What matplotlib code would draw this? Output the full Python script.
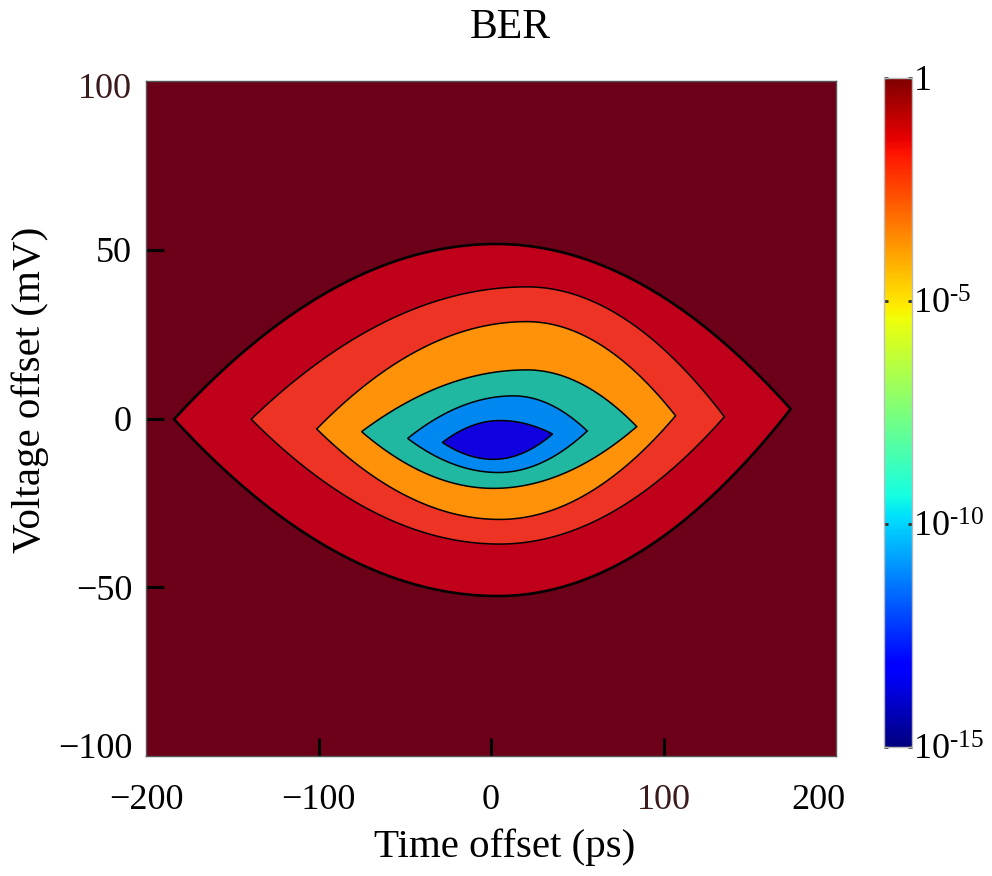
import matplotlib
matplotlib.use("Agg")
import matplotlib.pyplot as plt
import numpy as np
from matplotlib.colors import LogNorm
from matplotlib.cm import ScalarMappable
import matplotlib.transforms as mtransforms

plt.rcParams["font.family"] = ["Liberation Serif", "DejaVu Serif"]
plt.rcParams["mathtext.fontset"] = "custom"
plt.rcParams["mathtext.rm"] = "Liberation Serif"
plt.rcParams["mathtext.it"] = "Liberation Serif:italic"

# contour outlines (ps, mV), outermost first
t_left = [-183.7, -139.0, -101.0, -75.0, -48.3, -28.2]
v_left = [-0.2, -0.2, -3.1, -3.9, -5.9, -7.1]
t_right = [173.7, 135.3, 107.0, 84.5, 55.8, 35.7]
v_right = [2.8, 0.5, 0.8, -2.4, -3.7, -4.6]
t_top = [3.0, 20.7, 20.7, 20.7, 13.0, 5.2]
v_top = [51.7, 39.0, 28.7, 14.4, 6.7, -0.6]
t_bot = [4.0, 5.0, 5.0, 1.4, 4.3, 1.4]
v_bot = [-52.6, -37.2, -29.9, -20.7, -16.0, -12.1]

bg_color = "#6d0019"
fill_colors = ["#c0001a", "#ec3324", "#ff9208", "#20b8a0", "#0088f0", "#1000e0"]

cb_ticks = [1e-15, 1e-10, 1e-5, 1]
cb_labels = ["$10^{\u201015}$", "$10^{\u201010}$", "$10^{\u20105}$", "1"]


def edge(t, tl, vl, tp, vp, tr, vr):
    out = np.empty_like(t)
    a = t <= tp
    u = (t[a] - tl) / (tp - tl)
    out[a] = vl + (vp - vl) * (1 - (1 - u) ** 2)
    u = (tr - t[~a]) / (tr - tp)
    out[~a] = vr + (vp - vr) * (1 - (1 - u) ** 2)
    return out


fig = plt.figure(figsize=(9.92, 8.76), dpi=100)
ax = fig.add_axes([146 / 992, 120 / 876, 690 / 992, 675 / 876])
ax.set_facecolor(bg_color)

for k in range(len(t_left)):
    t = np.linspace(t_left[k], t_right[k], 400)
    up = edge(t, t_left[k], v_left[k], t_top[k], v_top[k], t_right[k], v_right[k])
    lo = edge(t, t_left[k], v_left[k], t_bot[k], v_bot[k], t_right[k], v_right[k])
    xs = np.concatenate([t, t[::-1]])
    ys = np.concatenate([up, lo[::-1]])
    lw = 1.9 if k == 0 else 1.1
    ax.fill(xs, ys, facecolor=fill_colors[k], edgecolor="black", linewidth=lw)

ax.set_xlim(-200, 200)
ax.set_ylim(-100, 100)
ax.set_xticks([-200, -100, 0, 100, 200])
ax.set_yticks([-100, -50, 0, 50, 100])
ax.tick_params(direction="in", length=13, width=2.2, labelsize=26, color="black")
ax.tick_params(axis="x", pad=20)
ax.tick_params(axis="y", pad=10)
for s in ax.spines.values():
    s.set_linewidth(1.0)
    s.set_color("#555555")

# no tick marks at the frame corners
for tk in (ax.xaxis.get_major_ticks()[0], ax.xaxis.get_major_ticks()[-1],
           ax.yaxis.get_major_ticks()[0], ax.yaxis.get_major_ticks()[-1]):
    tk.tick1line.set_visible(False)

# edge labels sit a bit inward, as in the reference
ylabs = ax.get_yticklabels()
ylabs[-1].set_transform(ylabs[-1].get_transform() +
                        mtransforms.ScaledTranslation(0, -5 / 100, fig.dpi_scale_trans))
ylabs[0].set_transform(ylabs[0].get_transform() +
                       mtransforms.ScaledTranslation(0, 10 / 100, fig.dpi_scale_trans))
xlabs = ax.get_xticklabels()
xlabs[-1].set_transform(xlabs[-1].get_transform() +
                        mtransforms.ScaledTranslation(-18 / 100, 0, fig.dpi_scale_trans))
ylabs[-1].set_color("#3a1a1a")
xlabs[3].set_color("#3a1a1a")

ax.set_title("BER", fontsize=30, pad=31, x=0.5275)
ax.set_xlabel("Time offset (ps)", fontsize=29.5)
ax.set_ylabel("Voltage offset (mV)", fontsize=29.5)
ax.xaxis.set_label_coords(0.52, -0.107)
ax.yaxis.set_label_coords(-0.14, 0.543)

cax = fig.add_axes([884 / 992, (876 - 747) / 876, 28 / 992, 669 / 876])
sm = ScalarMappable(norm=LogNorm(1e-15, 1), cmap="jet")
cb = fig.colorbar(sm, cax=cax, ticks=cb_ticks)
cb.ax.set_yticklabels(cb_labels)
cb.ax.minorticks_off()
cb.ax.tick_params(direction="in", length=3, width=2, labelsize=26, pad=1,
                  left=True, right=True, color="#333333")
cb.outline.set_edgecolor("#bbbbbb")
cb.outline.set_linewidth(1.0)

fig.savefig("out.png", dpi=100)
